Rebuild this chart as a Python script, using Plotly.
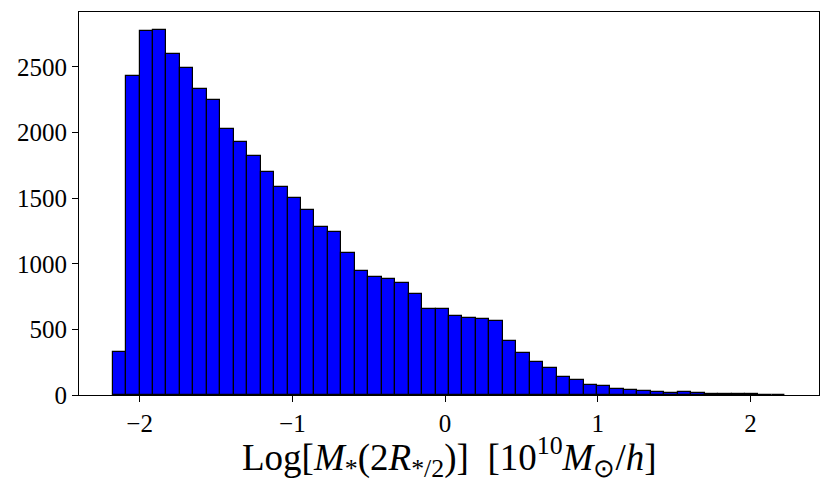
import numpy as np
import plotly.graph_objects as go

# Histogram: 50 bins, left edge and width
bin_start = -2.177
bin_width = 0.0881
counts = [330, 2431, 2774, 2780, 2598, 2492, 2329, 2248, 2029, 1925,
          1824, 1702, 1585, 1503, 1410, 1280, 1242, 1085, 942, 899,
          884, 856, 770, 655, 655, 604, 590, 577, 562, 409,
          322, 251, 206, 135, 115, 80, 66, 48, 38, 30,
          23, 15, 22, 15, 8, 7, 4, 7, 3, 2]
x_ticks = [-2, -1, 0, 1, 2]
y_ticks = [0, 500, 1000, 1500, 2000, 2500]
x_title = ("Log[<i>M</i><sub>*</sub>(2<i>R</i><sub>*/2</sub>)]&nbsp; "
           "[10<sup>10</sup><i>M</i><sub>⊙</sub>/<i>h</i>]")

centers = [bin_start + (i + 0.5) * bin_width for i in range(len(counts))]

fig = go.Figure(go.Bar(
    x=centers, y=counts, width=bin_width,
    marker=dict(color="#0000ff", line=dict(color="black", width=1.2)),
))

font = "Liberation Serif, Times New Roman, serif"
# page body has an 8px margin, so the figure is 8px smaller and shifted
fig.update_layout(
    width=823, height=484,
    margin=dict(l=71, r=12, t=4, b=97, autoexpand=False),
    plot_bgcolor="white", paper_bgcolor="white",
    bargap=0, showlegend=False,
    font=dict(family=font, size=25, color="black"),
)
fig.add_annotation(
    text=x_title, xref="paper", yref="paper", x=0.5, y=0,
    xanchor="center", yanchor="top", yshift=-35, showarrow=False,
    borderpad=0,
    font=dict(family=font, size=37, color="black"),
)
fig.update_xaxes(
    range=[-2.397, 2.448], tickvals=x_ticks, ticks="outside", ticklen=6,
    tickcolor="black", showline=True, linecolor="black", linewidth=1.2,
    mirror=True, showgrid=False, zeroline=False, automargin=False,
)
fig.update_yaxes(
    range=[0, 2919], tickvals=y_ticks, ticks="outside", ticklen=6,
    tickcolor="black", showline=True, linecolor="black", linewidth=1.2,
    mirror=True, showgrid=False, zeroline=False, automargin=False,
)
fig.write_html("out.html")
